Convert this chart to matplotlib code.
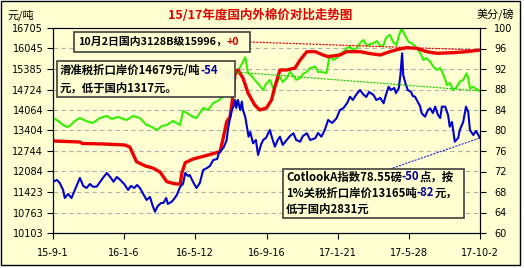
import matplotlib
matplotlib.use('Agg')
import matplotlib.pyplot as plt
import matplotlib.dates as mdates
from matplotlib.patches import Rectangle, ConnectionPatch
import pandas as pd

plt.rcParams['font.family'] = ['Noto Sans CJK SC', 'DejaVu Sans']

# 数据: 距 2015-09-01 的天数, 数值 (元/吨)
start_date = pd.Timestamp('2015-09-01')

red_days = [0, 48, 52, 90, 128, 137, 149, 165, 178, 191, 203, 215, 221, 227, 230, 236, 250,
            270, 298, 303, 310, 316, 321, 325, 330, 339, 348, 360, 369, 381, 390, 396, 405,
            417, 432, 441, 453, 468, 482, 491, 512, 524, 548, 566, 584, 601, 616, 631, 649,
            667, 685, 700, 714, 738, 762]
red_vals = [13066, 13034, 12986, 12970, 12938, 12874, 12400, 12260, 12197, 12068, 11756, 11700,
            11682, 11682, 12036, 12368, 12487, 12580, 12722, 13099, 13688, 13849, 14493, 15256,
            15353, 15095, 14612, 14226, 14065, 14129, 14387, 14815, 15353, 15353, 15417, 15675,
            15942, 15942, 15836, 15781, 15836, 15942, 15942, 15880, 15836, 15942, 16020, 16071,
            16051, 15942, 15890, 15900, 15910, 15942, 15996]

green_days = [0, 9, 18, 25, 30, 39, 48, 59, 71, 84, 96, 105, 116, 131, 143, 155, 167, 177, 185,
              195, 203, 214, 227, 232, 239, 250, 256, 268, 277, 286, 294, 303, 312, 321, 328,
              334, 339, 343, 348, 355, 360, 368, 375, 380, 387, 393, 396, 402, 405, 410, 417,
              423, 428, 434, 441, 446, 453, 459, 468, 473, 476, 488, 494, 500, 506, 512, 518,
              525, 530, 535, 542, 548, 554, 560, 566, 572, 578, 584, 590, 594, 601, 607, 613,
              617, 622, 626, 631, 635, 640, 646, 652, 657, 661, 666, 673, 678, 685, 691, 697,
              703, 708, 714, 719, 726, 732, 738, 741, 744, 750, 755, 762]
green_vals = [13807, 13711, 13582, 13517, 13550, 13711, 13807, 13711, 13646, 13807, 13871, 13775,
              13839, 13743, 13871, 13807, 13582, 13517, 13421, 13550, 13582, 13711, 13582, 14032,
              13968, 13839, 13807, 14129, 14065, 14290, 14355, 14483, 14644, 15127, 15256, 15449,
              15610, 15771, 15256, 15160, 15031, 14870, 14709, 14902, 15031, 14773, 14815, 15031,
              15137, 14966, 15095, 15288, 15192, 15031, 15095, 15224, 15298, 15417, 15459, 15288,
              15298, 15256, 15836, 15675, 15729, 15868, 15942, 16061, 16103, 15997, 16051, 16222,
              16319, 16126, 16190, 16212, 16286, 16126, 16158, 16383, 16480, 16254, 16158, 16448,
              16695, 16544, 16373, 16254, 16212, 16126, 15997, 15836, 15675, 15739, 15620, 15481,
              15353, 15417, 15192, 14870, 14934, 14709, 14773, 14976, 15031, 15246, 15095, 14763,
              14815, 14741, 14679]

blue_days = [0, 7, 12, 18, 21, 27, 33, 39, 45, 48, 54, 60, 66, 71, 78, 84, 89, 96, 102, 108,
             114, 120, 127, 134, 139, 145, 150, 155, 161, 167, 173, 178, 182, 187, 193, 197,
             202, 205, 212, 216, 221, 227, 232, 236, 241, 244, 250, 256, 262, 268, 275, 280,
             286, 293, 296, 301, 305, 310, 312, 316, 319, 322, 325, 327, 330, 334, 337, 339,
             343, 349, 352, 357, 362, 366, 371, 375, 380, 387, 391, 396, 401, 405, 410, 417,
             423, 429, 434, 441, 446, 453, 459, 468, 473, 479, 485, 491, 498, 506, 512, 518,
             525, 530, 535, 542, 548, 553, 559, 564, 572, 577, 584, 590, 594, 599, 603, 609,
             612, 617, 620, 623, 625, 629, 633, 639, 642, 646, 651, 655, 658, 664, 669, 673,
             678, 682, 687, 691, 694, 700, 705, 708, 712, 717, 723, 726, 732, 737, 741, 744,
             750, 755, 762]
blue_vals = [11756, 11811, 11714, 11489, 11231, 11360, 11231, 11489, 11746, 11875, 11618, 11553,
             11682, 11595, 11595, 11746, 11875, 12036, 11907, 11756, 11907, 11811, 11682, 11489,
             11618, 11553, 11650, 11553, 11360, 11167, 11263, 10973, 10790, 10973, 11070, 11070,
             11231, 11038, 11112, 11199, 11328, 11595, 11682, 12036, 11939, 11972, 11746, 11553,
             11714, 12133, 12197, 12261, 12455, 12487, 12680, 12777, 12873, 13099, 13421, 13807,
             14065, 14171, 14387, 14129, 14387, 14065, 14332, 14065, 13849, 13205, 13356, 12992,
             13099, 12616, 12938, 13099, 13163, 13421, 13163, 12883, 13099, 13205, 12938, 13099,
             13228, 13314, 13099, 13044, 13228, 13314, 13099, 13153, 13324, 13205, 13421, 13743,
             13646, 13797, 14065, 14119, 14290, 14493, 14387, 14580, 14709, 14580, 14483, 14644,
             14548, 14387, 14451, 14281, 14548, 14815, 14709, 14773, 14612, 14763, 15192, 15890,
             15192, 14924, 14709, 14644, 14516, 14493, 14322, 14194, 13958, 13849, 14065, 14119,
             13968, 14171, 13904, 13807, 14171, 14171, 13904, 13527, 13678, 13044, 13163, 13421,
             13678, 14171, 14000, 13421, 13260, 13389, 13165]

left_ticks = [10103, 10763, 11423, 12084, 12744, 13404, 14064, 14724, 15385, 16045, 16705]
right_ticks = [60, 64, 68, 72, 76, 80, 84, 88, 92, 96, 100]
x_tick_dates = ['2015-09-01', '2016-01-06', '2016-05-12', '2016-09-16',
                '2017-01-21', '2017-05-28', '2017-10-02']

W, H = 524, 268
BG = '#FFFFD2'


def to_dates(days):
    return start_date + pd.to_timedelta(days, unit='D')


fig = plt.figure(figsize=(W / 100, H / 100), dpi=100)
fig.patch.set_facecolor('white')
fig.add_artist(Rectangle((1 / W, 1 - 265 / H), 519 / W, 264 / H, transform=fig.transFigure,
                         facecolor=BG, edgecolor='black', linewidth=1, zorder=-10))

ax = fig.add_axes([53 / W, 1 - 233 / H, 427 / W, 205 / H])
ax.set_facecolor(BG)

ax.plot(to_dates(green_days), green_vals, color='#33F000', linewidth=1.5, zorder=3)
ax.plot(to_dates(red_days), red_vals, color='#EE0000', linewidth=2.4, zorder=4)
ax.plot(to_dates(blue_days), blue_vals, color='#0000CC', linewidth=1.5, zorder=5)

ax.set_xlim(pd.Timestamp(x_tick_dates[0]), pd.Timestamp(x_tick_dates[-1]))
ax.set_ylim(left_ticks[0], left_ticks[-1])
ax.set_yticks(left_ticks)
ax.set_xticks(pd.to_datetime(x_tick_dates))
ax.set_xticklabels([f"{d.year % 100}-{d.month}-{d.day}" for d in pd.to_datetime(x_tick_dates)])
ax.grid(axis='y', linestyle=(0, (4, 3)), color='#B0B0B0', linewidth=0.8)
ax.tick_params(axis='both', direction='out', length=4, width=0.8, labelsize=7, colors='black')
ax.tick_params(axis='x', pad=7)
ax.tick_params(axis='y', pad=3)
for lab in ax.get_xticklabels() + ax.get_yticklabels():
    lab.set_fontfamily('DejaVu Sans')
for side in ['left', 'bottom', 'right']:
    ax.spines[side].set_color('black')
ax.spines['top'].set_color('#808080')

ax2 = ax.twinx()
ax2.set_ylim(right_ticks[0], right_ticks[-1])
ax2.set_yticks(right_ticks)
ax2.tick_params(axis='y', direction='out', length=4, width=0.8, labelsize=7, pad=6)
for lab in ax2.get_yticklabels():
    lab.set_fontfamily('DejaVu Sans')
ax2.spines['right'].set_color('black')

fig.text(260 / W, 1 - 15 / H, '15/17年度国内外棉价对比走势图', color='#E00000',
         fontsize=9, fontweight='bold', ha='center', va='center')
fig.text(8 / W, 1 - 15 / H, '元/吨', fontsize=8, ha='left', va='center')
fig.text(514 / W, 1 - 15 / H, '美分/磅', fontsize=8, ha='right', va='center')

renderer = fig.canvas.get_renderer()


def box(x0, y0, x1, y1):
    fig.add_artist(Rectangle((x0 / W, 1 - y1 / H), (x1 - x0) / W, (y1 - y0) / H,
                             transform=fig.transFigure, facecolor=BG, edgecolor='#404040',
                             linewidth=1.2, zorder=10))


def line_parts(x, y, parts, size=8.2):
    cx = x
    for s, c in parts:
        t = fig.text(cx / W, 1 - y / H, s, color=c, fontsize=size, fontweight='bold',
                     ha='left', va='center', zorder=11)
        cx += t.get_window_extent(renderer).width


def connector(px, py, day, val, color):
    xb = mdates.date2num(to_dates([day])[0])
    con = ConnectionPatch(xyA=(px / W, 1 - py / H), coordsA='figure fraction',
                          xyB=(xb, val), coordsB=ax.transData,
                          color=color, linestyle=':', linewidth=0.9, zorder=6)
    fig.add_artist(con)


connector(250, 42, red_days[-1], red_vals[-1], '#EE0000')
connector(235, 72, green_days[-1], green_vals[-1], '#22CC00')
connector(390, 169, blue_days[-1], blue_vals[-1], '#3333CC')

black = '#000000'
dblue = '#000099'
dred = '#CC0000'

box(74, 32, 250, 52)
line_parts(78, 42, [('10月2日国内3128B级15996，', black), ('+0', dred)], size=7.8)

box(57, 61, 235, 97)
line_parts(60, 70, [('滑准税折口岸价14679元/吨', black), ('-54', dblue)])
line_parts(60, 88, [('元，低于国内1317元。', black)])

box(283, 169, 464, 218)
line_parts(286, 177, [('CotlookA指数78.55磅', black), ('-50', dblue), ('点，按', black)])
line_parts(286, 193, [('1%关税折口岸价13165吨', black), ('-82', dblue), ('元，', black)])
line_parts(286, 209, [('低于国内2831元', black)])

fig.savefig('out.png', dpi=100, facecolor=fig.get_facecolor())
